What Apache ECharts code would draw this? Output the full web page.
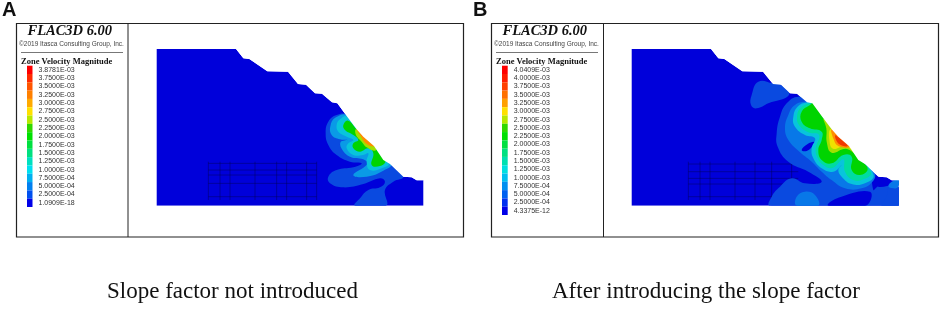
<!DOCTYPE html>
<html><head><meta charset="utf-8">
<style>html,body{margin:0;padding:0;background:#fff}#c{width:941px;height:311px;filter:blur(0.45px)}</style>
<script src="https://cdn.jsdelivr.net/npm/echarts@6/dist/echarts.min.js"></script>
</head><body><div id="c"></div>
<script>
// Colour levels
const levelLabelsA = ["3.8781E-03","3.7500E-03","3.5000E-03","3.2500E-03","3.0000E-03","2.7500E-03","2.5000E-03","2.2500E-03","2.0000E-03","1.7500E-03","1.5000E-03","1.2500E-03","1.0000E-03","7.5000E-04","5.0000E-04","2.5000E-04","1.0909E-18"];
const levelLabelsB = ["4.0409E-03","4.0000E-03","3.7500E-03","3.5000E-03","3.2500E-03","3.0000E-03","2.7500E-03","2.5000E-03","2.2500E-03","2.0000E-03","1.7500E-03","1.5000E-03","1.2500E-03","1.0000E-03","7.5000E-04","5.0000E-04","2.5000E-04","4.3375E-12"];
const levelColorsA = ["#ff0000","#ff2a00","#ff5500","#ff8000","#ffaa00","#ffe000","#b8e800","#30d800","#00e000","#00e040","#00e080","#00e0c0","#00e0f0","#00b0f0","#0080f0","#0050f0","#0000e8"];
const levelColorsB = ["#ff0000","#ff1c00","#ff4000","#ff7000","#ffa000","#ffe000","#b8e800","#30d800","#00e000","#00e040","#00e080","#00e0b0","#00e0e0","#00c0f0","#0090f0","#0060f0","#0030f0","#0000e8"];
// Model outline
const bodyOutline = [[20,27],[258,27],[280,55],[298,57],[352,94],[414,95],[444,132],[468,134],[495,160],[516,161],[546,187],[562,190],[590,228],[620,268],[640,290],[672,318],[700,360],[720,372],[760,410],[785,412],[800,421],[820,421],[820,497],[20,497]];
const skyOutline = [[258,27],[280,55],[298,57],[352,94],[414,95],[444,132],[468,134],[495,160],[516,161],[546,187],[562,190],[590,228],[620,268],[640,290],[672,318],[700,360],[720,372],[760,410],[785,412],[800,421],[820,421],[820,27]];
// Panel A contours
const a1 = [[592,226],[560,225],[535,245],[527,280],[535,315],[560,345],[600,365],[635,370],[610,382],[560,390],[535,410],[540,430],[580,442],[640,432],[690,415],[705,425],[690,442],[655,450],[630,475],[615,497],[708,497],[705,450],[730,425],[760,410],[720,368],[650,300]];
const a1hole = [[570,312],[590,305],[596,314],[580,322]];
const a2 = [[592,226],[558,232],[542,255],[545,285],[570,298],[592,300],[572,306],[575,326],[600,350],[640,358],[652,372],[610,405],[650,410],[700,392],[724,370],[660,300]];
const a3 = [[592,230],[570,238],[560,255],[565,275],[590,290],[610,300],[595,310],[590,325],[610,345],[640,345],[655,340],[650,365],[660,390],[695,385],[716,370],[660,300]];
const a4 = [[594,242],[580,255],[585,270],[610,285],[625,300],[610,310],[610,325],[630,335],[655,325],[670,340],[665,375],[690,378],[706,362],[672,318],[640,290],[620,268]];
const a5 = [[618,268],[618,285],[635,305],[650,322],[676,332],[674,316],[642,288]];
const a6 = [[620,266],[630,285],[650,312],[676,320],[668,314],[642,288]];
// Panel B contours
const b1top = [[400,125],[380,165],[378,195],[395,205],[430,190],[492,165],[470,136],[444,130]];
const b1 = [[520,170],[485,190],[465,230],[455,280],[458,320],[490,365],[550,395],[590,425],[540,430],[500,415],[465,440],[440,470],[435,497],[820,497],[820,440],[760,440],[770,425],[745,410],[700,360],[620,260],[560,185]];
const b1holes = [[530,330],[548,312],[568,306],[560,322],[545,333]];
const b1dark = [[610,497],[640,473],[735,455],[722,497]];
const b1right = [[745,405],[772,418],[770,430],[755,442],[745,450]];
const b1patch = [[790,438],[805,422],[820,420],[820,440],[805,445]];
const b1deep = [[822,418],[822,445],[790,445],[785,470],[770,497],[822,497]];
const b2 = [[548,184],[510,195],[490,225],[480,265],[490,300],[520,332],[560,365],[590,395],[620,420],[660,445],[710,445],[745,422],[748,398],[700,355],[620,262],[565,188]];
const b2low = [[515,497],[515,470],[540,455],[570,465],[580,497]];
const b3 = [[552,186],[520,198],[505,230],[510,260],[540,285],[570,295],[560,325],[565,355],[590,385],[625,395],[650,375],[640,390],[650,410],[680,432],[720,430],[746,405],[700,355],[620,262],[565,188]];
const b4 = [[554,190],[526,205],[516,232],[522,255],[550,277],[582,285],[572,325],[576,350],[595,375],[622,384],[655,358],[660,395],[685,420],[715,418],[738,398],[700,355],[620,262],[565,188]];
const b5 = [[556,194],[530,215],[530,245],[555,265],[590,275],[590,300],[580,330],[590,360],[620,370],[655,345],[680,350],[680,390],[705,405],[728,386],[700,355],[672,318],[620,262],[590,225],[565,190]];
const b6 = [[596,236],[604,265],[606,310],[620,338],[662,326],[688,338],[672,316],[620,264]];
const b7 = [[617,268],[613,298],[624,326],[660,318],[680,328],[672,316],[640,288]];
const b8 = [[620,268],[626,298],[640,318],[674,320],[650,292]];
const b9 = [[630,286],[642,312],[668,318],[646,296]];
// Mesh line positions
const meshAX = [175,210,240,315,380,410,470,500];
const meshAY = [370,390,405,430,470];
const meshBX = [190,225,255,330,390,440,500];
const meshBY = [372,395,415,432,470];
// Text
const panelLetters = ["A","B"];
const programName = "FLAC3D 6.00";
const copyrightText = "©2019 Itasca Consulting Group, Inc.";
const legendTitle = "Zone Velocity Magnitude";
const captions = ["Slope factor not introduced","After introducing the slope factor"];

const C = {deep:"#0000da", l1:"#0a4ae0", l2:"#0878e8", l25:"#0a9ae6", l3:"#08c4dc", l4:"#00dca0", g:"#00d400", yg:"#a0e000", y:"#f0e000", o:"#ff8c00", r:"#f03800"};
const bandsA = [[a1,C.l1],[a1hole,C.deep],[a2,C.l25],[a3,C.l3],[a4,C.g],[a5,C.yg],[a6,C.o]];
const bandsB = [[b1top,C.l1],[b1,C.l1],[b1dark,C.deep],[b1deep,C.l1],[b1right,C.deep],[b1patch,C.l2],[b2low,C.l2],[b2,C.l2],[b1holes,C.deep],[b3,C.l3],[b4,C.l4],[b5,C.g],[b6,C.yg],[b7,C.y],[b8,C.o],[b9,C.r]];

function poly(pts,color,smooth,g,z){
  return {type:'custom',xAxisIndex:g,yAxisIndex:g,coordinateSystem:'cartesian2d',clip:true,z:z,silent:true,
    data:[[pts[0][0],pts[0][1]]],
    renderItem:(p,api)=>({type:'polygon',shape:{points:pts.map(q=>api.coord(q)),smooth:smooth},style:{fill:color,stroke:null}})};
}
function meshSeries(xs,ys,x0,x1,y0,y1,g){
  const segs=[...xs.map(x=>[x,y0,x,y1]),...ys.map(y=>[x0,y,x1,y])];
  return {type:'custom',xAxisIndex:g,yAxisIndex:g,clip:true,z:3,silent:true,data:segs,
    renderItem:(p,api)=>{const a=api.coord([api.value(0),api.value(1)]),b=api.coord([api.value(2),api.value(3)]);
      return {type:'line',shape:{x1:a[0],y1:a[1],x2:b[0],y2:b[1]},style:{stroke:'rgba(0,0,70,0.4)',lineWidth:1}};}};
}
function meshGrid(left){return {left:left,top:49,width:266.6,height:156.7,show:false};}
function legendBar(labels,colors,g){
  return {type:'bar',xAxisIndex:g,yAxisIndex:g,barWidth:'100%',silent:true,animation:false,
    data:labels.map((_,i)=>({value:1,itemStyle:{color:colors[i]}}))};
}
const series=[];
[[bandsA,0,meshAX,meshAY],[bandsB,1,meshBX,meshBY]].forEach(([bands,g,mx,my])=>{
  series.push(poly(bodyOutline,C.deep,0,g,1));
  series.push(meshSeries(mx,my,g?190:175,g?520:500,365,480,g));
  bands.forEach(([pts,col],i)=>series.push(poly(pts,col,0.45,g,4+i)));
  series.push(poly(skyOutline,"#ffffff",0,g,40));
});
series.push(legendBar(levelLabelsA,levelColorsA,2));
series.push(legendBar(levelLabelsB,levelColorsB,3));

const valX=(min,max,gi)=>({type:'value',gridIndex:gi,min:min,max:max,show:false});
const valY=(min,max,gi)=>({type:'value',gridIndex:gi,min:min,max:max,inverse:true,show:false});
const catY=(labels,gi)=>({type:'category',gridIndex:gi,data:labels,inverse:true,position:'right',
  axisLine:{show:false},axisTick:{show:false},
  axisLabel:{interval:0,align:'left',margin:6,fontFamily:'Liberation Sans',fontSize:7,color:'#333'}});

const gfx=[];
[[16,128,0],[491,603.5,1]].forEach(([x,dx,i])=>{
  gfx.push({type:'rect',shape:{x:x+0.5,y:23.5,width:447,height:213.5},style:{fill:'none',stroke:'#222',lineWidth:1.2}});
  gfx.push({type:'line',shape:{x1:dx,y1:23.5,x2:dx,y2:237},style:{stroke:'#222',lineWidth:1}});
  gfx.push({type:'line',shape:{x1:x+5,y1:52.5,x2:x+107,y2:52.5},style:{stroke:'#777',lineWidth:1.2}});
});

const t=(text,left,top,font,size,weight,style,color)=>({text:text,left:left,top:top,padding:0,textStyle:{fontFamily:font,fontSize:size,fontWeight:weight,fontStyle:style,color:color}});
const titles=[
 t(panelLetters[0],2,0,'Liberation Sans',20,'bold','normal','#111'),
 t(panelLetters[1],473,0,'Liberation Sans',20,'bold','normal','#111'),
 t(programName,27.5,24,'Liberation Serif',14.5,'bold','italic','#111'),
 t(programName,502.5,24,'Liberation Serif',14.5,'bold','italic','#111'),
 t(copyrightText,19,41,'Liberation Sans',6.5,'normal','normal','#444'),
 t(copyrightText,494,41,'Liberation Sans',6.5,'normal','normal','#444'),
 t(legendTitle,21,57,'Liberation Serif',8.5,'bold','normal','#111'),
 t(legendTitle,496,57,'Liberation Serif',8.5,'bold','normal','#111'),
 t(captions[0],107,280,'Liberation Serif',23,'normal','normal','#111'),
 t(captions[1],552,280,'Liberation Serif',23,'normal','normal','#111')
];

const chart=echarts.init(document.getElementById('c'),null,{renderer:'canvas'});
chart.setOption({
  animation:false,backgroundColor:'#fff',title:titles,
  grid:[meshGrid(156.7),meshGrid(631.7),
    {left:27,top:65.7,width:5.5,height:141.3},{left:502,top:65.7,width:5.7,height:149.3}],
  xAxis:[valX(20,820,0),valX(20,820,1),valX(0,1,2),valX(0,1,3)],
  yAxis:[valY(27,497,0),valY(27,497,1),catY(levelLabelsA,2),catY(levelLabelsB,3)],
  graphic:{elements:gfx},
  series:series
});
</script></body></html>
